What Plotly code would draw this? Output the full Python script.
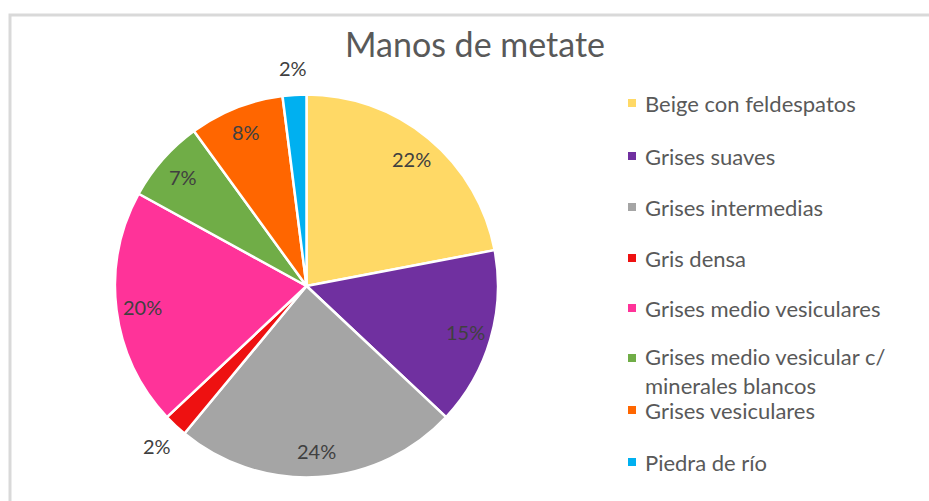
import math
import plotly.graph_objects as go

# Composition of "manos de metate" by raw material type (percent)
categories = [
    "Beige con feldespatos",
    "Grises suaves",
    "Grises intermedias",
    "Gris densa",
    "Grises medio vesiculares",
    "Grises medio vesicular c/<br>minerales blancos",
    "Grises vesiculares",
    "Piedra de río",
]
percentages = [22, 15, 24, 2, 20, 7, 8, 2]
colors = ["#FFD966", "#7030A0", "#A5A5A5", "#EE1111", "#FF3399", "#70AD47", "#FF6600", "#00B0F0"]
label_outside = [False, False, False, True, False, False, False, True]

W, H = 929, 501
FONT = "Lato, 'Open Sans', sans-serif"

# Pie placement in pixels (circle fits the domain height)
pie_left, pie_right, pie_top, pie_bottom = 115, 498, 94, 478
cx = (pie_left + pie_right) / 2
cy = (pie_top + pie_bottom) / 2
radius = (pie_bottom - pie_top) / 2

fig = go.Figure(
    go.Pie(
        labels=categories,
        values=percentages,
        sort=False,
        direction="clockwise",
        rotation=0,
        marker=dict(colors=colors, line=dict(color="white", width=2.5)),
        textinfo="none",
        domain=dict(x=[pie_left / W, pie_right / W], y=[(H - pie_bottom) / H, (H - pie_top) / H]),
        showlegend=False,
        hoverinfo="label+percent",
    )
)

annotations = []
shapes = []

# Percentage labels placed along each slice's mid-angle (clockwise from 12 o'clock)
total = sum(percentages)
cumulative = 0
for value, outside in zip(percentages, label_outside):
    mid = (cumulative + value / 2) / total * 2 * math.pi
    cumulative += value
    r = radius * (1.14 if outside else 0.86)
    px = cx + r * math.sin(mid)
    py = cy - r * math.cos(mid)
    annotations.append(dict(
        text=f"{value / total:.0%}", xref="paper", yref="paper",
        x=px / W, y=1 - py / H, xanchor="center", yanchor="middle",
        showarrow=False,
        font=dict(family=FONT, size=20, color="#404040"),
    ))

# Legend: square swatch plus text, one row per category
legend_rows = [103, 156, 207, 258, 308, 371, 410, 462]
for name, color, row in zip(categories, colors, legend_rows):
    swatch_y = row if "<br>" not in name else row - 13
    shapes.append(dict(
        type="rect", xref="paper", yref="paper",
        x0=628 / W, x1=636 / W,
        y0=1 - (swatch_y + 4) / H, y1=1 - (swatch_y - 4) / H,
        fillcolor=color, line=dict(width=0),
    ))
    annotations.append(dict(
        text=name, xref="paper", yref="paper",
        x=643 / W, y=1 - row / H, xanchor="left", yanchor="middle",
        align="left", showarrow=False,
        font=dict(family=FONT, size=22, color="#595959"),
    ))

# Chart frame
shapes.append(dict(
    type="rect", xref="paper", yref="paper",
    x0=10 / W, x1=1.05, y0=-0.05, y1=1 - 15 / H,
    line=dict(color="#D9D9D9", width=3), fillcolor="rgba(0,0,0,0)",
    layer="below",
))

fig.update_layout(
    width=W,
    height=H,
    margin=dict(l=0, r=0, t=0, b=0),
    paper_bgcolor="white",
    plot_bgcolor="white",
    title=dict(
        text="Manos de metate",
        x=475 / W, xanchor="center",
        y=1 - 45 / H, yanchor="middle",
        font=dict(family=FONT, size=34, color="#595959"),
    ),
    shapes=shapes,
    annotations=annotations,
)

fig.write_html("out.html")
